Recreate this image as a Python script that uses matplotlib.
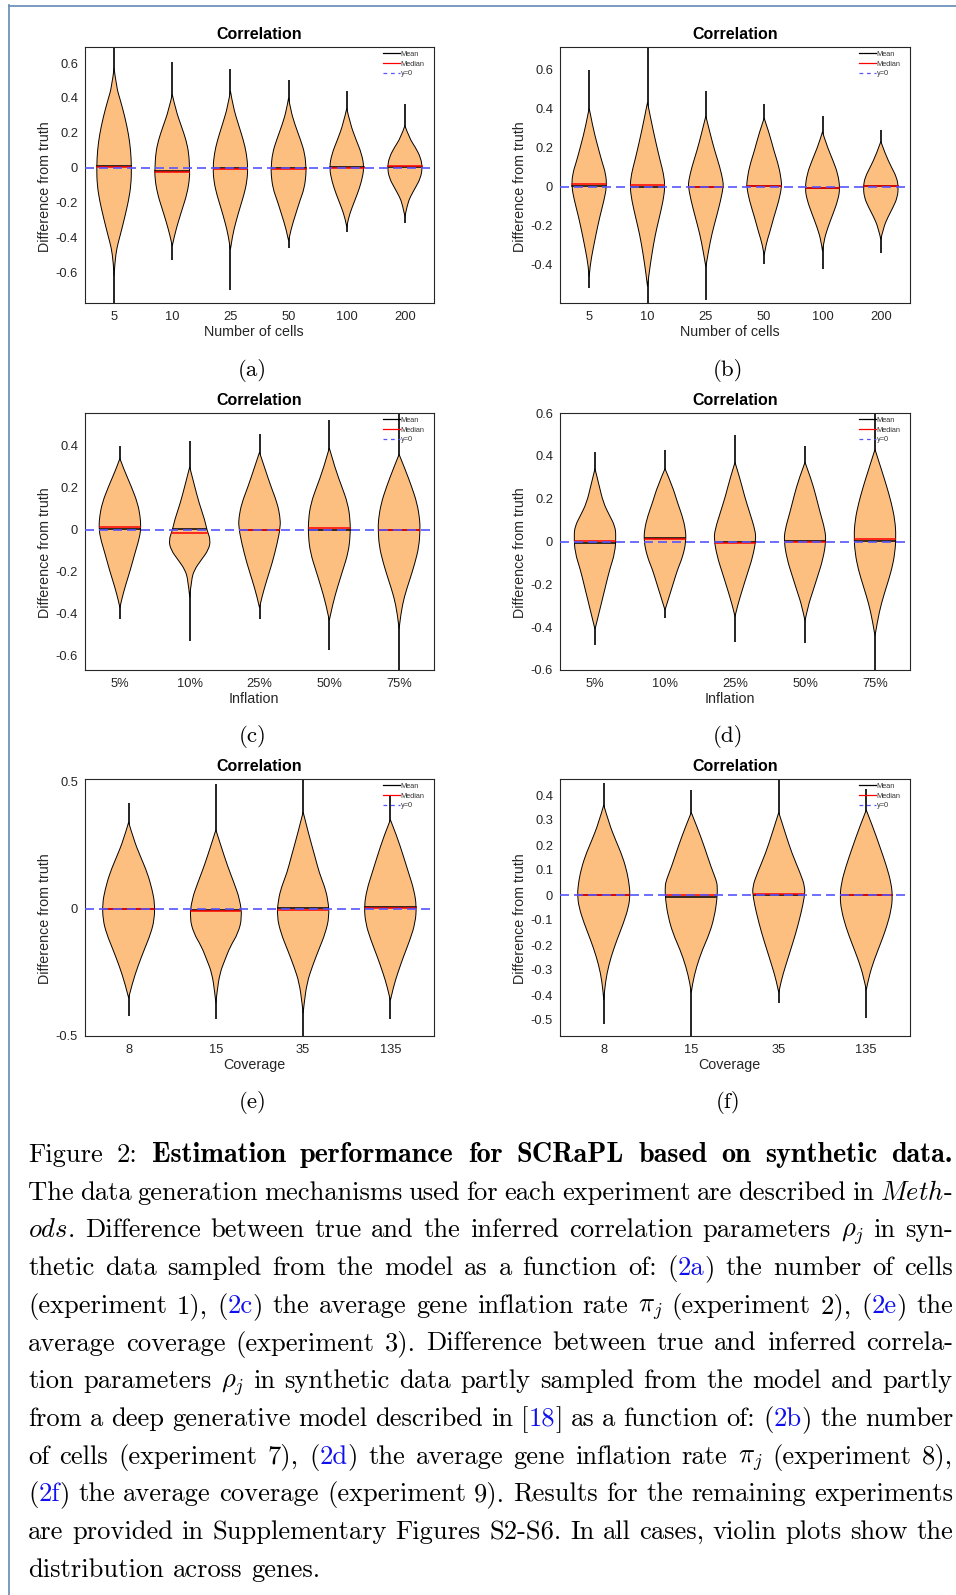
import matplotlib
matplotlib.use('Agg')  # no display in the sandbox

import re
import numpy as np
import matplotlib.pyplot as plt
from matplotlib.path import Path
from matplotlib.patches import PathPatch
from matplotlib.lines import Line2D

plt.rcParams['mathtext.fontset'] = 'cm'
plt.rcParams['font.family'] = ['Liberation Sans', 'DejaVu Sans']

W, H = 956, 1595

# ---------------- data ----------------
# each violin shape: [value, relative half-width] from top tip to bottom tip

# (a) experiment 1, number of cells
a_labels = ['5', '10', '25', '50', '100', '200']
a_hi = [0.692, 0.605, 0.567, 0.50, 0.44, 0.364]
a_lo = [-0.778, -0.53, -0.706, -0.465, -0.37, -0.32]
a_mean = [0.008, -0.019, -0.004, -0.003, 0.001, 0.003]
a_median = [0.005, -0.026, -0.007, -0.008, 0.0, 0.006]
a_shape = [
    [[0.57, 0], [0.46, .14], [0.39, .35], [0.29, .62], [0.19, .83], [0.10, .95], [0.0, 1.0],
     [-0.10, .97], [-0.19, .83], [-0.29, .60], [-0.39, .35], [-0.46, .16], [-0.54, .05], [-0.62, 0]],
    [[0.42, 0], [0.33, .2], [0.23, .55], [0.155, .8], [0.08, .95], [0.0, .99], [-0.06, 1.0],
     [-0.15, .85], [-0.23, .6], [-0.31, .35], [-0.39, .13], [-0.45, 0]],
    [[0.44, 0], [0.35, .15], [0.25, .45], [0.155, .75], [0.08, .92], [0.0, 1.0], [-0.08, .95],
     [-0.155, .78], [-0.23, .55], [-0.31, .32], [-0.39, .12], [-0.47, 0]],
    [[0.40, 0], [0.33, .12], [0.25, .35], [0.155, .7], [0.08, .93], [0.0, 1.0], [-0.04, 1.0],
     [-0.12, .9], [-0.19, .65], [-0.27, .4], [-0.35, .15], [-0.42, 0]],
    [[0.34, 0], [0.25, .2], [0.155, .55], [0.08, .85], [0.0, 1.0], [-0.08, .85], [-0.155, .6],
     [-0.23, .3], [-0.29, .1], [-0.34, 0]],
    [[0.24, 0], [0.17, .25], [0.116, .6], [0.058, .9], [0.0, 1.0], [-0.06, .9], [-0.116, .6],
     [-0.17, .3], [-0.21, .15], [-0.28, 0]],
]

# (b) experiment 7, number of cells
b_labels = ['5', '10', '25', '50', '100', '200']
b_hi = [0.595, 0.713, 0.489, 0.424, 0.36, 0.29]
b_lo = [-0.516, -0.595, -0.58, -0.397, -0.42, -0.34]
b_mean = [0.005, 0.0, -0.003, 0.002, -0.005, 0.003]
b_median = [0.012, 0.007, -0.004, 0.001, -0.007, 0.004]
b_shape = [
    [[0.40, 0], [0.30, .22], [0.22, .45], [0.13, .72], [0.065, .95], [0.0, 1.0], [-0.07, .85],
     [-0.157, .6], [-0.24, .4], [-0.33, .2], [-0.40, .06], [-0.46, 0]],
    [[0.43, 0], [0.34, .2], [0.236, .45], [0.133, .72], [0.065, .92], [0.0, 1.0], [-0.07, .9],
     [-0.157, .68], [-0.243, .45], [-0.345, .25], [-0.45, .08], [-0.51, 0]],
    [[0.36, 0], [0.27, .25], [0.185, .5], [0.1, .8], [0.03, .98], [0.0, 1.0], [-0.07, .85],
     [-0.157, .6], [-0.24, .35], [-0.33, .15], [-0.41, 0]],
    [[0.35, 0], [0.27, .3], [0.185, .55], [0.1, .85], [0.03, .98], [0.0, 1.0], [-0.07, .85],
     [-0.157, .55], [-0.24, .3], [-0.29, .12], [-0.35, 0]],
    [[0.28, 0], [0.22, .2], [0.133, .6], [0.065, .88], [-0.01, 1.0], [-0.07, .88], [-0.14, .6],
     [-0.21, .3], [-0.277, .08], [-0.33, 0]],
    [[0.23, 0], [0.167, .25], [0.1, .6], [0.048, .9], [0.0, 1.0], [-0.055, .95], [-0.106, .7],
     [-0.157, .4], [-0.21, .15], [-0.27, 0]],
]

# (c) experiment 2, inflation
c_labels = ['5%', '10%', '25%', '50%', '75%']
c_hi = [0.40, 0.425, 0.455, 0.524, 0.557]
c_lo = [-0.425, -0.527, -0.425, -0.571, -0.667]
c_mean = [0.003, 0.003, 0.002, 0.002, 0.002]
c_median = [0.014, -0.013, 0.001, 0.01, 0.001]
c_shape = [
    [[0.34, 0], [0.286, .2], [0.206, .55], [0.127, .85], [0.063, .97], [0.016, 1.0], [-0.032, .95],
     [-0.11, .72], [-0.19, .5], [-0.27, .25], [-0.333, .08], [-0.37, 0]],
    [[0.30, 0], [0.222, .2], [0.127, .45], [0.048, .72], [0.0, .82], [-0.048, 1.0], [-0.095, .9],
     [-0.143, .55], [-0.19, .22], [-0.238, .08], [-0.32, 0]],
    [[0.37, 0], [0.286, .28], [0.206, .55], [0.127, .85], [0.063, .98], [0.016, 1.0], [-0.063, .85],
     [-0.16, .6], [-0.238, .35], [-0.317, .12], [-0.37, 0]],
    [[0.39, 0], [0.286, .3], [0.206, .6], [0.127, .88], [0.048, 1.0], [-0.032, 1.0], [-0.11, .9],
     [-0.19, .65], [-0.27, .4], [-0.35, .17], [-0.43, 0]],
    [[0.36, 0], [0.286, .3], [0.206, .6], [0.127, .86], [0.048, .99], [0.0, 1.0], [-0.079, .95],
     [-0.16, .75], [-0.24, .5], [-0.317, .25], [-0.4, .08], [-0.47, 0]],
]

# (d) experiment 8, inflation
d_labels = ['5%', '10%', '25%', '50%', '75%']
d_hi = [0.416, 0.427, 0.495, 0.444, 0.6]
d_lo = [-0.484, -0.355, -0.468, -0.473, -0.6]
d_mean = [-0.005, 0.017, -0.003, 0.002, 0.002]
d_median = [0.003, 0.013, -0.008, 0.0, 0.01]
d_shape = [
    [[0.34, 0], [0.26, .2], [0.18, .4], [0.12, .7], [0.072, .95], [0.025, 1.0], [-0.053, .95],
     [-0.13, .7], [-0.21, .5], [-0.29, .3], [-0.37, .1], [-0.41, 0]],
    [[0.34, 0], [0.26, .35], [0.18, .6], [0.12, .82], [0.056, .98], [0.0, 1.0], [-0.07, .85],
     [-0.13, .6], [-0.194, .4], [-0.257, .2], [-0.32, 0]],
    [[0.37, 0], [0.29, .25], [0.213, .45], [0.135, .7], [0.056, .95], [0.01, 1.0], [-0.07, .85],
     [-0.147, .6], [-0.225, .35], [-0.3, .12], [-0.35, 0]],
    [[0.37, 0], [0.29, .3], [0.213, .52], [0.135, .72], [0.056, .95], [0.0, 1.0], [-0.085, .85],
     [-0.163, .6], [-0.24, .35], [-0.3, .15], [-0.37, 0]],
    [[0.43, 0], [0.338, .3], [0.26, .55], [0.18, .78], [0.1, .95], [0.025, 1.0], [-0.053, .95],
     [-0.13, .8], [-0.21, .55], [-0.29, .3], [-0.37, .12], [-0.44, 0]],
]

# (e) experiment 3, coverage
e_labels = ['8', '15', '35', '135']
e_hi = [0.416, 0.49, 0.51, 0.449]
e_lo = [-0.42, -0.434, -0.5, -0.434]
e_mean = [-0.001, -0.003, 0.003, 0.008]
e_median = [-0.001, -0.007, -0.003, 0.003]
e_shape = [
    [[0.34, 0], [0.27, .2], [0.206, .45], [0.14, .72], [0.075, .9], [0.02, 1.0], [-0.043, .98],
     [-0.096, .85], [-0.16, .6], [-0.227, .35], [-0.29, .15], [-0.35, 0]],
    [[0.31, 0], [0.245, .2], [0.167, .45], [0.1, .7], [0.035, .92], [-0.035, 1.0], [-0.096, .85],
     [-0.148, .55], [-0.2, .35], [-0.253, .15], [-0.33, .04], [-0.37, 0]],
    [[0.38, 0], [0.298, .2], [0.206, .45], [0.14, .62], [0.088, .82], [0.035, .95], [-0.03, 1.0],
     [-0.096, .85], [-0.16, .6], [-0.227, .35], [-0.29, .15], [-0.37, .04], [-0.41, 0]],
    [[0.35, 0], [0.285, .25], [0.206, .5], [0.14, .7], [0.075, .9], [0.01, 1.0], [-0.056, .95],
     [-0.122, .75], [-0.188, .5], [-0.253, .28], [-0.306, .12], [-0.36, 0]],
]

# (f) experiment 9, coverage
f_labels = ['8', '15', '35', '135']
f_hi = [0.447, 0.42, 0.464, 0.423]
f_lo = [-0.516, -0.564, -0.433, -0.493]
f_mean = [-0.001, -0.008, 0.0, 0.0]
f_median = [-0.001, 0.001, 0.004, 0.001]
f_shape = [
    [[0.36, 0], [0.287, .2], [0.22, .45], [0.153, .72], [0.087, .9], [0.033, .98], [0.0, 1.0],
     [-0.047, .95], [-0.113, .75], [-0.18, .5], [-0.247, .28], [-0.313, .12], [-0.38, .03], [-0.42, 0]],
    [[0.33, 0], [0.273, .22], [0.193, .5], [0.113, .75], [0.06, .95], [0.033, 1.0], [-0.02, .98],
     [-0.087, .88], [-0.153, .7], [-0.22, .42], [-0.287, .2], [-0.353, .05], [-0.39, 0]],
    [[0.33, 0], [0.247, .25], [0.167, .5], [0.087, .82], [0.033, 1.0], [-0.007, .98], [-0.073, .85],
     [-0.153, .65], [-0.22, .45], [-0.287, .25], [-0.34, .1], [-0.39, 0]],
    [[0.34, 0], [0.273, .25], [0.193, .52], [0.113, .78], [0.047, .95], [-0.007, 1.0], [-0.06, .95],
     [-0.127, .78], [-0.193, .55], [-0.26, .3], [-0.327, .1], [-0.38, 0]],
]

yticks_a = [-0.6, -0.4, -0.2, 0, 0.2, 0.4, 0.6]
yticks_b = [-0.4, -0.2, 0, 0.2, 0.4, 0.6]
yticks_c = [-0.6, -0.4, -0.2, 0, 0.2, 0.4]
yticks_d = [-0.6, -0.4, -0.2, 0, 0.2, 0.4, 0.6]
yticks_e = [-0.5, 0, 0.5]
yticks_f = [-0.5, -0.4, -0.3, -0.2, -0.1, 0, 0.1, 0.2, 0.3, 0.4]

caption_lines = [
    "Figure 2: *Estimation performance for SCRaPL based on synthetic data.*",
    "The data generation mechanisms used for each experiment are described in ~Meth~-",
    "~ods~. Difference between true and the inferred correlation parameters $\\rho_j$ in syn-",
    "thetic data sampled from the model as a function of: ({2a}) the number of cells",
    "(experiment 1), ({2c}) the average gene inflation rate $\\pi_j$ (experiment 2), ({2e}) the",
    "average coverage (experiment 3). Difference between true and inferred correla-",
    "tion parameters $\\rho_j$ in synthetic data partly sampled from the model and partly",
    "from a deep generative model described in [{18}] as a function of: ({2b}) the number",
    "of cells (experiment 7), ({2d}) the average gene inflation rate $\\pi_j$ (experiment 8),",
    "({2f}) the average coverage (experiment 9). Results for the remaining experiments",
    "are provided in Supplementary Figures S2-S6. In all cases, violin plots show the",
    "distribution across genes.",
]

# ---------------- layout ----------------
panels = [
    # tag, box (left, top, right, bottom) in px, xlabel, labels, hi, lo, mean, median, shapes, ylim, yticks
    ('(a)', (85, 47, 434, 303), 'Number of cells', a_labels, a_hi, a_lo, a_mean, a_median, a_shape, (-0.778, 0.692), yticks_a),
    ('(b)', (560, 47, 910, 303), 'Number of cells', b_labels, b_hi, b_lo, b_mean, b_median, b_shape, (-0.595, 0.713), yticks_b),
    ('(c)', (85, 413, 434, 670), 'Inflation', c_labels, c_hi, c_lo, c_mean, c_median, c_shape, (-0.667, 0.557), yticks_c),
    ('(d)', (560, 413, 910, 670), 'Inflation', d_labels, d_hi, d_lo, d_mean, d_median, d_shape, (-0.6, 0.6), yticks_d),
    ('(e)', (85, 779, 434, 1036), 'Coverage', e_labels, e_hi, e_lo, e_mean, e_median, e_shape, (-0.5, 0.51), yticks_e),
    ('(f)', (560, 779, 910, 1036), 'Coverage', f_labels, f_hi, f_lo, f_mean, f_median, f_shape, (-0.564, 0.464), yticks_f),
]

FILL = '#FDBF80'
ZERO_BLUE = '#5555ff'
DARK = '#262626'
FRAME = '#7092bb'


def violin_patch(x0, shape, half=0.3):
    # smooth outline through the read-off knots with quadratic bezier pieces
    right = [(x0 + half * w, y) for y, w in shape]
    left = [(x0 - half * w, y) for y, w in shape]
    verts, codes = [right[0]], [Path.MOVETO]
    for side in (right, left[::-1]):
        n = len(side)
        for i in range(1, n - 1):
            if i == n - 2:
                end = side[n - 1]
            else:
                end = ((side[i][0] + side[i + 1][0]) / 2, (side[i][1] + side[i + 1][1]) / 2)
            verts += [side[i], end]
            codes += [Path.CURVE3, Path.CURVE3]
    verts.append(right[0])
    codes.append(Path.CLOSEPOLY)
    return PathPatch(Path(verts, codes), facecolor=FILL, edgecolor='black', lw=0.7, zorder=3)


fig = plt.figure(figsize=(W / 100, H / 100), dpi=100)

page = fig.add_axes([0, 0, 1, 1])
page.set_xlim(0, W)
page.set_ylim(H, 0)
page.axis('off')
page.plot([9.5, 9.5], [5, H], color=FRAME, lw=1.3)
page.plot([9.5, W], [5.5, 5.5], color=FRAME, lw=1.3)

for tag, (l, t, r, b), xlab, labels, hi, lo, mean, median, shapes, ylim, yticks in panels:
    ax = fig.add_axes([l / W, 1 - b / H, (r - l) / W, (b - t) / H])
    n = len(labels)
    xs = np.arange(1, n + 1)
    for x0, h, lw_, m, md, shape in zip(xs, hi, lo, mean, median, shapes):
        ax.plot([x0, x0], [lw_, h], color='black', lw=1.2, zorder=2, solid_capstyle='butt')
        ax.add_patch(violin_patch(x0, shape))
        ys = [p[0] for p in shape][::-1]
        ws = [p[1] for p in shape][::-1]
        hw = 0.3 * np.interp(m, ys, ws) * 0.97
        ax.plot([x0 - hw, x0 + hw], [m, m], color='black', lw=1.1, zorder=4)
        hw = 0.3 * np.interp(md, ys, ws) * 0.97
        ax.plot([x0 - hw, x0 + hw], [md, md], color='red', lw=1.1, zorder=4)
    ax.axhline(0, color=ZERO_BLUE, lw=1.2, ls='--', dashes=(5.4, 3), zorder=5)

    ax.set_xlim(0.5, n + 0.5)
    ax.set_ylim(*ylim)
    ax.set_xticks(xs)
    ax.set_xticklabels(labels)
    ax.set_yticks(yticks)
    ax.set_yticklabels([f'{v:g}' for v in yticks])
    ax.tick_params(length=0, labelsize=9.3, labelcolor=DARK)
    ax.tick_params(axis='x', pad=5.5)
    ax.tick_params(axis='y', pad=5)
    for sp in ax.spines.values():
        sp.set_color(DARK)
        sp.set_linewidth(0.8)

    ax.set_xlabel(xlab, fontsize=10.3, color=DARK)
    ax.xaxis.set_label_coords(0.485, -29 / (b - t))
    ax.xaxis.label.set_va('center')
    ax.set_ylabel('Difference from truth', fontsize=10.3, color=DARK)
    ax.yaxis.set_label_coords(-40 / (r - l), 0.455)
    ax.yaxis.label.set_va('center')
    ax.text(0.5, 1 + 12.5 / (b - t), 'Correlation', transform=ax.transAxes, ha='center', va='center',
            fontsize=11.5, fontweight='bold', color='black')

    handles = [Line2D([], [], color='black', lw=0.9),
               Line2D([], [], color='red', lw=0.9),
               Line2D([], [], color=ZERO_BLUE, lw=0.9, ls='--', dashes=(3, 3))]
    leg = ax.legend(handles, ['Mean', 'Median', 'y=0'], loc='upper left', bbox_to_anchor=(0.855, 0.985),
                    fontsize=5.3, frameon=False, handlelength=2.3, handletextpad=0.05,
                    labelspacing=0.35, borderpad=0, borderaxespad=0)
    for txt in leg.get_texts():
        txt.set_color('#333333')
    leg.set_zorder(6)

    cx = (l + r) / 2 - 7
    page.text(cx, b + 67, tag, ha='center', va='center', fontsize=16.5, family='cmr10', color='black')

# ---------------- caption, justified word by word ----------------
CAP_FS0 = 17.3
BOLD_SCALE = 1.06  # the bold face of the page is a little wider than cmb10
LEFT, RIGHT = 28, 953
token = re.compile(r'\*([^*]+)\*|~([^~]+)~|\{([^}]+)\}|(\$[^$]+\$)|([^*~{$]+)')


def parse(line):
    words = [[]]
    for mt in token.finditer(line):
        styles = ['b', 'i', 'l', 'm', 'n']
        k = next(i for i in range(5) if mt.group(i + 1) is not None)
        seg, style = mt.group(k + 1), styles[k]
        parts = seg.split(' ') if style != 'm' else [seg]
        for j, p in enumerate(parts):
            if j > 0:
                words.append([])
            if p:
                words[-1].append((p, style))
    return [w for w in words if w]


def make_text(x, y, s, style, size):
    kw = dict(va='baseline', ha='left', family='cmr10', color='black')
    scale = 1.0
    if style == 'b':
        kw['family'] = 'cmb10'
        scale = BOLD_SCALE
    elif style == 'i':
        s = r'$\mathit{%s}$' % s
    elif style == 'l':
        kw['color'] = '#1010ee'
    t = page.text(x, y, s, fontsize=size * scale, **kw)
    t._size_scale = scale
    return t


renderer = fig.canvas.get_renderer()
all_lines = []
for k, line in enumerate(caption_lines):
    y = 1162 + 37.7 * k
    all_lines.append([[make_text(0, y, s, st, CAP_FS0) for s, st in word] for word in parse(line)])


def measure(lines):
    return [[sum(t.get_window_extent(renderer).width for t in word) for word in words] for words in lines]


# pick the font size at which the justified lines need only ordinary interword spacing
widths = measure(all_lines)
space0 = 0.333 * CAP_FS0 * 100 / 72
factors = [(RIGHT - LEFT) / (sum(wl) + (len(wl) - 1) * space0) for wl in widths[1:-1]]
cap_fs = CAP_FS0 * float(np.median(factors)) * 0.995
for words in all_lines:
    for word in words:
        for t in word:
            t.set_fontsize(cap_fs * t._size_scale)
widths = measure(all_lines)

for k, (words, wl) in enumerate(zip(all_lines, widths)):
    if k < len(all_lines) - 1:
        gap = (RIGHT - LEFT - sum(wl)) / (len(words) - 1)
    else:
        gap = 0.333 * cap_fs * 100 / 72
    x = LEFT
    for word in words:
        for t in word:
            t.set_x(x)
            x += t.get_window_extent(renderer).width
        x += gap

fig.savefig('out.png', dpi=100)
plt.close(fig)
